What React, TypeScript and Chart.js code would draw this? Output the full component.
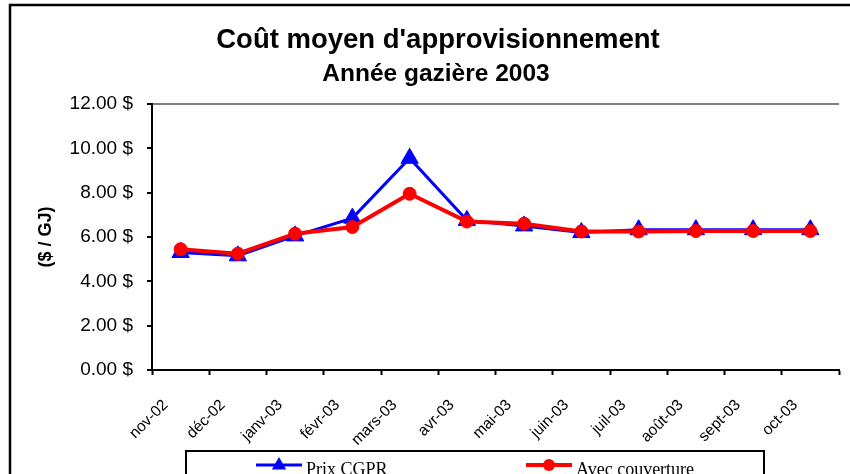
import React, { useEffect, useRef } from "react";
import { Chart, registerables } from "chart.js";

Chart.register(...registerables);

const categories = ["nov-02", "déc-02", "janv-03", "févr-03", "mars-03", "avr-03", "mai-03", "juin-03", "juil-03", "août-03", "sept-03", "oct-03"];
const prixCGPR = [5.3, 5.15, 6.05, 6.85, 9.55, 6.75, 6.5, 6.2, 6.33, 6.33, 6.33, 6.33];
const avecCouverture = [5.45, 5.25, 6.15, 6.45, 7.95, 6.7, 6.6, 6.25, 6.25, 6.27, 6.27, 6.27];
const yTicks = [0, 2, 4, 6, 8, 10, 12];
const seriesNames = ["Prix CGPR", "Avec couverture"];
const titleText = "Coût moyen d'approvisionnement";
const subtitleText = "Année gazière 2003";
const yTitle = "($ / GJ)";

const SANS = "'Liberation Sans', Arial, sans-serif";
const SERIF = "'Liberation Serif', 'Times New Roman', serif";

const decorPlugin = {
  id: "decor",
  afterDraw(chart: any) {
    const ctx = chart.ctx;
    ctx.save();
    // outer frame
    ctx.strokeStyle = "#000";
    ctx.lineWidth = 2.5;
    ctx.beginPath();
    ctx.moveTo(10, 480);
    ctx.lineTo(10, 5);
    ctx.lineTo(860, 5);
    ctx.stroke();

    // titles
    ctx.fillStyle = "#000";
    ctx.textAlign = "center";
    ctx.textBaseline = "alphabetic";
    ctx.font = `bold 27.5px ${SANS}`;
    ctx.fillText(titleText, 438, 48);
    ctx.font = `bold 24.5px ${SANS}`;
    ctx.fillText(subtitleText, 436, 81);

    // y title
    ctx.save();
    ctx.translate(46, 237);
    ctx.rotate(-Math.PI / 2);
    ctx.font = `bold 18px ${SANS}`;
    ctx.textBaseline = "middle";
    ctx.fillText(yTitle, 0, 0);
    ctx.restore();

    // legend box
    ctx.lineWidth = 2;
    ctx.strokeStyle = "#000";
    ctx.beginPath();
    ctx.moveTo(186, 480);
    ctx.lineTo(186, 451);
    ctx.lineTo(764, 451);
    ctx.lineTo(764, 480);
    ctx.stroke();

    const items = [
      { x: 256, ds: chart.data.datasets[0] },
      { x: 526, ds: chart.data.datasets[1] },
    ];
    const ly = 465;
    items.forEach((it) => {
      const ds = it.ds;
      ctx.strokeStyle = ds.borderColor;
      ctx.lineWidth = ds.borderWidth;
      ctx.beginPath();
      ctx.moveTo(it.x, ly);
      ctx.lineTo(it.x + 46, ly);
      ctx.stroke();
      ctx.fillStyle = ds.borderColor;
      ctx.beginPath();
      if (ds.pointStyle === "triangle") {
        const r = 8;
        const cx = it.x + 23;
        ctx.moveTo(cx, ly - r);
        ctx.lineTo(cx + r * 0.9, ly + r * 0.55);
        ctx.lineTo(cx - r * 0.9, ly + r * 0.55);
        ctx.closePath();
      } else {
        ctx.arc(it.x + 23, ly, 6, 0, Math.PI * 2);
      }
      ctx.fill();
      ctx.fillStyle = "#000";
      ctx.font = `18px ${SERIF}`;
      ctx.textAlign = "left";
      ctx.textBaseline = "middle";
      ctx.fillText(ds.label, it.x + 50, ly + 5);
    });
    ctx.restore();
  },
};

export default function App() {
  const ref = useRef<HTMLCanvasElement | null>(null);
  useEffect(() => {
    document.body.style.margin = "0";
    const canvas = ref.current;
    if (!canvas) return;
    const chart = new Chart(canvas, {
      type: "line",
      data: {
        labels: categories,
        datasets: [
          {
            label: seriesNames[0],
            data: prixCGPR,
            borderColor: "#0000FF",
            backgroundColor: "#0000FF",
            borderWidth: 3,
            pointStyle: "triangle",
            pointRadius: 10,
            pointBorderWidth: 1,
            pointBackgroundColor: "#0000FF",
            pointBorderColor: "#0000FF",
            tension: 0,
            order: 2,
          },
          {
            label: seriesNames[1],
            data: avecCouverture,
            borderColor: "#FF0000",
            backgroundColor: "#FF0000",
            borderWidth: 4,
            pointStyle: "circle",
            pointRadius: 6.5,
            pointBorderWidth: 1,
            pointBackgroundColor: "#FF0000",
            pointBorderColor: "#FF0000",
            tension: 0,
            order: 1,
          },
        ],
      },
      options: {
        animation: false,
        responsive: false,
        maintainAspectRatio: false,
        layout: { padding: { left: 0, right: 0, top: 104, bottom: 0 } },
        plugins: {
          legend: { display: false },
          title: { display: false },
          tooltip: { enabled: false },
        },
        scales: {
          x: {
            type: "category",
            offset: true,
            grid: {
              offset: true,
              color: "transparent",
              tickColor: "#000",
              tickLength: 5,
              tickWidth: 2,
              drawOnChartArea: false,
            },
            border: { color: "#000", width: 2 },
            ticks: {
              autoSkip: false,
              maxRotation: 45,
              minRotation: 45,
              labelOffset: -15,
              padding: 21,
              color: "#000",
              font: { family: SANS, size: 15.5 },
            },
            afterFit(scale: any) {
              scale.height = 104;
            },
          },
          y: {
            min: 0,
            max: 12,
            afterBuildTicks(scale: any) {
              scale.ticks = yTicks.map((v) => ({ value: v }));
            },
            grid: {
              color: (c: any) => (c.tick && c.tick.value === 12 ? "#808080" : "transparent"),
              lineWidth: 2,
              tickColor: "#000",
              tickLength: 5,
              tickWidth: 2,
            },
            border: { color: "#000", width: 2 },
            ticks: {
              padding: 14,
              color: "#000",
              font: { family: SANS, size: 19 },
              callback: (v: any) => Number(v).toFixed(2) + " $",
            },
            afterFit(scale: any) {
              scale.width = 152;
            },
          },
        },
      },
      plugins: [decorPlugin],
    });
    return () => chart.destroy();
  }, []);
  return <canvas ref={ref} width={850} height={474} style={{ display: "block", width: 850, height: 474 }} />;
}
